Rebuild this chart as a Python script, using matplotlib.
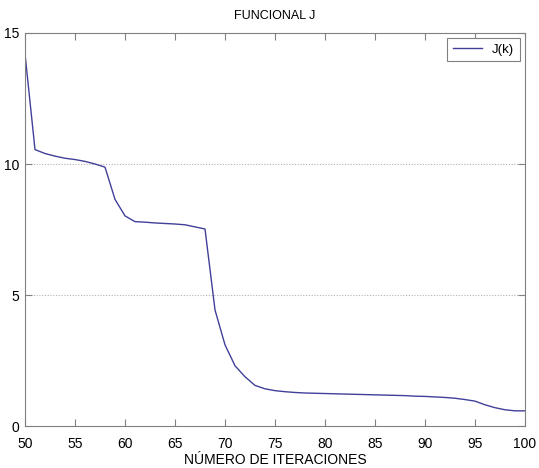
import matplotlib.pyplot as plt

plt.rcParams['font.family'] = ['Liberation Sans', 'DejaVu Sans']

iters = list(range(50, 101))
J = [14.2, 10.55, 10.4, 10.3, 10.22, 10.17, 10.1, 10.0, 9.88, 8.65,
     8.02, 7.8, 7.78, 7.75, 7.73, 7.71, 7.68, 7.6, 7.52, 4.43,
     3.1, 2.3, 1.88, 1.55, 1.42, 1.35, 1.31, 1.28, 1.26, 1.25,
     1.24, 1.23, 1.22, 1.21, 1.2, 1.19, 1.18, 1.17, 1.16, 1.14,
     1.13, 1.11, 1.09, 1.06, 1.01, 0.95, 0.81, 0.7, 0.62, 0.58,
     0.58]

fig = plt.figure(figsize=(5.39, 4.68), dpi=100)
ax = fig.add_axes([0.0464, 0.0897, 0.9276, 0.8398])

ax.plot(iters, J, color='#40409a', linewidth=1.0, label='J(k)')

ax.set_xlim(50, 100)
ax.set_ylim(0, 15)
ax.set_xticks(range(50, 101, 5))
ax.set_yticks([0, 5, 10, 15])
for y in (5, 10):
    ax.axhline(y, color='#b0b0b0', linestyle=(0, (1, 1.5)), linewidth=0.8, zorder=0)

ax.tick_params(direction='in', top=True, right=True, length=5, width=0.8,
               color='#808080', labelsize=10)
ax.tick_params(axis='x', pad=8)
ax.tick_params(axis='y', pad=4)
for s in ax.spines.values():
    s.set_color('#808080')
    s.set_linewidth(0.8)

ax.set_title('FUNCIONAL J', fontsize=9, pad=10)
ax.set_xlabel('NÚMERO DE ITERACIONES', fontsize=10, labelpad=1)

leg = ax.legend(loc='upper right', fontsize=9.5, fancybox=False, framealpha=1,
                edgecolor='#808080', handlelength=2.2, borderaxespad=0.4,
                borderpad=0.4)
leg.get_frame().set_linewidth(0.8)

fig.savefig('out.png', dpi=100)
